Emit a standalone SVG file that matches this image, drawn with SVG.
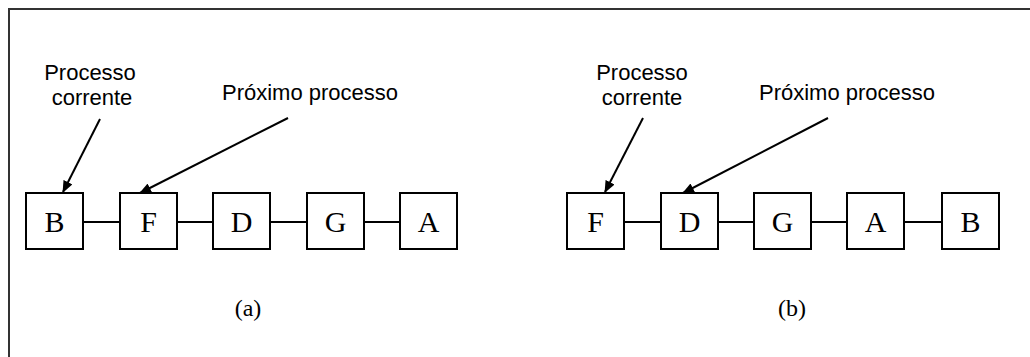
<svg xmlns="http://www.w3.org/2000/svg" width="1030" height="357" viewBox="0 0 1030 357">
<style>
.box{fill:#fff;stroke:#000;stroke-width:2}
.ln{stroke:#000;stroke-width:2;fill:none}
.arr{stroke:#000;stroke-width:2;fill:none;marker-end:url(#ah)}
.lt{font-family:"Liberation Serif",serif;font-size:30px;text-anchor:middle;fill:#000}
.lbl{font-family:"Liberation Sans",Arial,sans-serif;font-size:22px;text-anchor:middle;fill:#000}
.cap{font-family:"Liberation Serif",serif;font-size:24px;text-anchor:middle;fill:#000}
</style>
<defs>
<marker id="ah" viewBox="0 0 12 10" refX="11" refY="5" markerWidth="12" markerHeight="10" markerUnits="userSpaceOnUse" orient="auto">
<path d="M0,0 L12,5 L0,10 z" fill="#000"/>
</marker>
</defs>
<rect width="1030" height="357" fill="#fff"/>
<rect x="9" y="9" width="1030" height="360" fill="none" stroke="#333" stroke-width="2"/>
<g id="connectors">
<line class="ln" x1="83" y1="222" x2="120" y2="222"/>
<line class="ln" x1="177" y1="222" x2="213" y2="222"/>
<line class="ln" x1="270" y1="222" x2="307" y2="222"/>
<line class="ln" x1="364" y1="222" x2="400" y2="222"/>
<line class="ln" x1="624" y1="222" x2="661" y2="222"/>
<line class="ln" x1="718" y1="222" x2="754" y2="222"/>
<line class="ln" x1="811" y1="222" x2="847" y2="222"/>
<line class="ln" x1="904" y1="222" x2="942" y2="222"/>
<line class="arr" x1="100" y1="119" x2="63" y2="192"/>
<line class="arr" x1="288" y1="118" x2="140" y2="193"/>
<line class="arr" x1="643" y1="118" x2="605" y2="192"/>
<line class="arr" x1="828" y1="118" x2="683" y2="193"/>
</g>
<g id="a-B"><rect class="box" x="26" y="193" width="57" height="56"/><text class="lt" x="54.5" y="232">B</text></g>
<g id="a-F"><rect class="box" x="120" y="193" width="57" height="56"/><text class="lt" x="148.5" y="232">F</text></g>
<g id="a-D"><rect class="box" x="213" y="193" width="57" height="56"/><text class="lt" x="241.5" y="232">D</text></g>
<g id="a-G"><rect class="box" x="307" y="193" width="57" height="56"/><text class="lt" x="335.5" y="232">G</text></g>
<g id="a-A"><rect class="box" x="400" y="193" width="57" height="56"/><text class="lt" x="428.5" y="232">A</text></g>
<g id="b-F"><rect class="box" x="567" y="193" width="57" height="56"/><text class="lt" x="595.5" y="232">F</text></g>
<g id="b-D"><rect class="box" x="661" y="193" width="57" height="56"/><text class="lt" x="689.5" y="232">D</text></g>
<g id="b-G"><rect class="box" x="754" y="193" width="57" height="56"/><text class="lt" x="782.5" y="232">G</text></g>
<g id="b-A"><rect class="box" x="847" y="193" width="57" height="56"/><text class="lt" x="875.5" y="232">A</text></g>
<g id="b-B"><rect class="box" x="942" y="193" width="57" height="56"/><text class="lt" x="970.5" y="232">B</text></g>
<g id="a-labels">
<text class="lbl" x="90" y="80">Processo</text>
<text class="lbl" x="92" y="105">corrente</text>
<text class="lbl" x="310" y="100">Próximo processo</text>
<text class="cap" x="248" y="316">(a)</text>
</g>
<g id="b-labels">
<text class="lbl" x="642" y="80">Processo</text>
<text class="lbl" x="642" y="105">corrente</text>
<text class="lbl" x="847" y="100">Próximo processo</text>
<text class="cap" x="792" y="316">(b)</text>
</g>
</svg>
